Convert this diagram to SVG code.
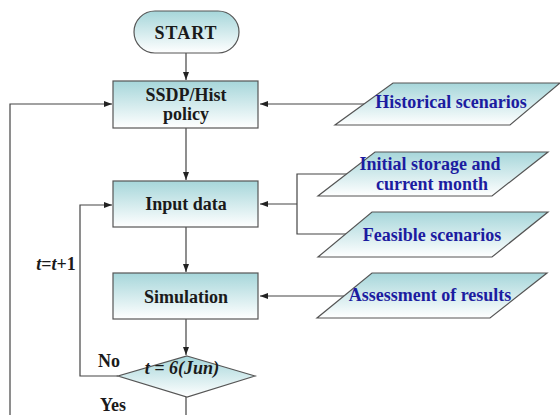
<svg xmlns="http://www.w3.org/2000/svg" width="560" height="415" viewBox="0 0 560 415">
<defs>
<linearGradient id="g" x1="0" y1="0" x2="0" y2="1">
<stop offset="0" stop-color="#a6d6da"/>
<stop offset="1" stop-color="#ffffff"/>
</linearGradient>
<marker id="ah" viewBox="0 0 8 6" refX="8" refY="3" markerWidth="8" markerHeight="6" markerUnits="userSpaceOnUse" orient="auto">
<path d="M0,0 L8,3 L0,6 z" fill="#222"/>
</marker>
<style>
.shape{fill:url(#g);stroke:#555;stroke-width:1.2}
.t{font-family:"Liberation Serif","Times New Roman",serif;font-weight:bold;font-size:18px;fill:#1a1a1a;text-anchor:middle}
.b{fill:#1c1ca0}
.i{font-style:italic}
.c{fill:none;stroke:#444;stroke-width:1.2}
.a{marker-end:url(#ah)}
</style>
</defs>
<rect width="560" height="415" fill="#fff"/>
<g id="connectors">
<path class="c a" d="M186,53 V80"/>
<path class="c a" d="M186,128 V180"/>
<path class="c a" d="M186,227 V272"/>
<path class="c a" d="M186,319 V355"/>
<path class="c" d="M186,397 V415"/>
<path class="c a" d="M365,104 H260"/>
<path class="c" d="M347,174 H297 V234 H347"/>
<path class="c a" d="M297,204 H260"/>
<path class="c a" d="M356,296 H260"/>
<path class="c a" d="M118,376 H80 V205 H112"/>
<path class="c a" d="M10,415 V104 H112"/>
</g>
<g id="start">
<rect class="shape" x="134" y="11" width="105" height="42" rx="21"/>
<text class="t" x="186" y="39" font-size="19" letter-spacing="1">START</text>
</g>
<g id="ssdp">
<rect class="shape" x="113" y="81" width="145" height="47"/>
<text class="t" x="186" y="101">SSDP/Hist</text>
<text class="t" x="186" y="120">policy</text>
</g>
<g id="input">
<rect class="shape" x="113" y="181" width="145" height="46"/>
<text class="t" x="186" y="210">Input data</text>
</g>
<g id="simulation">
<rect class="shape" x="113" y="273" width="145" height="46"/>
<text class="t" x="186" y="303">Simulation</text>
</g>
<g id="decision">
<polygon class="shape" points="187,356 255,376 187,397 118,376"/>
<text class="t i" x="182" y="374" font-size="19">t = 6(Jun)</text>
</g>
<g id="historical">
<polygon class="shape" points="393,83 560,83 510,125 335,125"/>
<text class="t b" x="451" y="108">Historical scenarios</text>
</g>
<g id="initial">
<polygon class="shape" points="375,152 548,152 492,196 318,196"/>
<text class="t b" x="430" y="170">Initial storage and</text>
<text class="t b" x="432" y="190">current month</text>
</g>
<g id="feasible">
<polygon class="shape" points="372,212 548,212 492,257 318,257"/>
<text class="t b" x="432" y="241">Feasible scenarios</text>
</g>
<g id="assessment">
<polygon class="shape" points="372,273 547,273 490,318 317,318"/>
<text class="t b" x="430" y="301">Assessment of results</text>
</g>
<g id="labels">
<text class="t" x="109" y="367">No</text>
<text class="t" x="113" y="411">Yes</text>
<text class="t" x="56" y="270"><tspan class="i">t</tspan>=<tspan class="i">t</tspan>+1</text>
</g>
</svg>
